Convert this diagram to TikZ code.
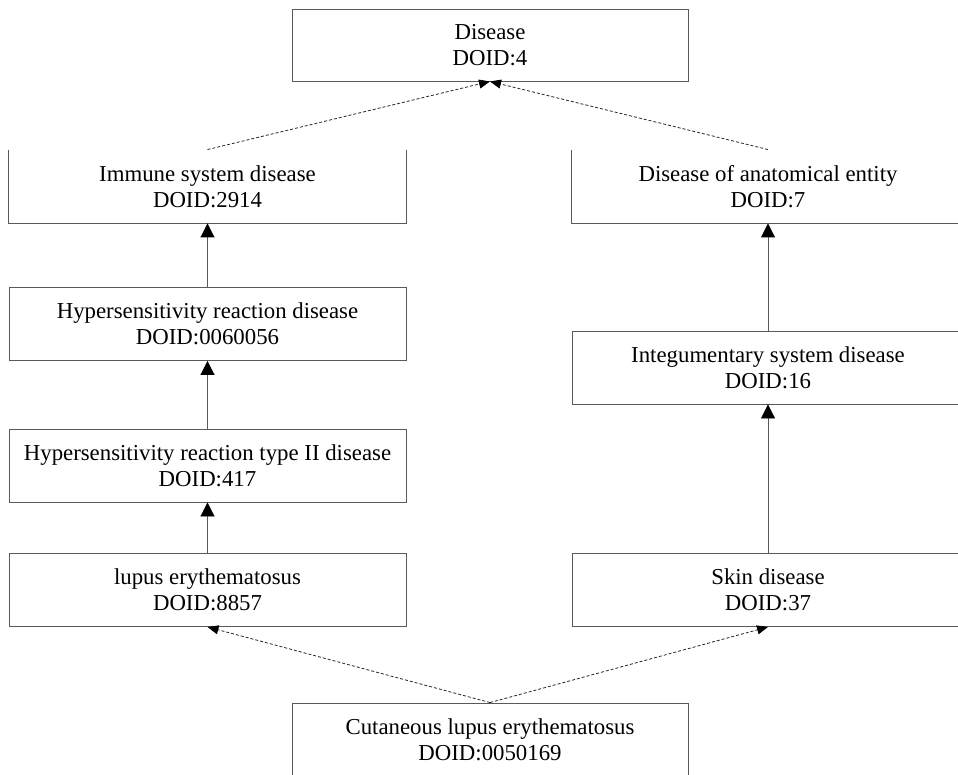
\documentclass[tikz,border=0pt]{standalone}
\usepackage{fontspec}
\setmainfont{Liberation Serif}
\usetikzlibrary{positioning,arrows.meta}

\begin{document}
\begin{tikzpicture}[x=1pt, y=-1pt, node distance=138pt,
  block/.style={rectangle, draw=black!65, line width=0.9pt, minimum width=397pt, minimum height=73pt, align=center, font=\fontsize{22.8}{26}\selectfont},
  opentop/.style={block, draw=none},
  isa/.style={draw=black!65, line width=0.9pt, -{Triangle[length=14pt, width=14pt, color=black]}},
  isadash/.style={draw=black!85, line width=0.8pt, dash pattern=on 3pt off 2pt, -{Triangle[length=11pt, width=9pt, color=black]}}]

  \useasboundingbox (0,0) rectangle (958,775);

  % root
  \node[block, minimum width=396pt, minimum height=72pt] (disease) at (490,45) {Disease\\DOID:4};

  % left branch
  \node[opentop] (immune) at (207.5,186.5) {Immune system disease\\DOID:2914};
  \node[block, below of=immune, node distance=137.5pt] (hyper) {Hypersensitivity reaction disease\\DOID:0060056};
  \node[block, below of=hyper, node distance=141.5pt] (hypertwo) {Hypersensitivity reaction type II disease\\DOID:417};
  \node[block, below of=hypertwo, node distance=124.5pt] (lupus) {lupus erythematosus\\DOID:8857};

  % right branch
  \node[opentop, minimum width=392pt] (anat) at (768,186.5) {Disease of anatomical entity\\DOID:7};
  \node[block, minimum width=392pt, below of=anat, node distance=181pt] (integ) {Integumentary system disease\\DOID:16};
  \node[block, minimum width=392pt, below of=integ, node distance=222.5pt] (skin) {Skin disease\\DOID:37};

  % leaf
  \node[block, minimum width=396pt] (cutaneous) at (490,739.5) {Cutaneous lupus erythematosus\\DOID:0050169};

  % boxes drawn without a top edge
  \draw[draw=black!65, line width=0.9pt] (immune.north west) -- (immune.south west) -- (immune.south east) -- (immune.north east);
  \draw[draw=black!65, line width=0.9pt] (anat.north west) -- (anat.south west) -- (anat.south east) -- (anat.north east);

  \draw[isa] (hyper) -- (immune);
  \draw[isa] (hypertwo) -- (hyper);
  \draw[isa] (lupus) -- (hypertwo);
  \draw[isa] (integ) -- (anat);
  \draw[isa] (skin) -- (integ);

  \draw[isadash] (immune.north) -- (disease.south);
  \draw[isadash] (anat.north) -- (disease.south);
  \draw[isadash] (cutaneous.north) -- (lupus.south);
  \draw[isadash] (cutaneous.north) -- (skin.south);
\end{tikzpicture}
\end{document}
